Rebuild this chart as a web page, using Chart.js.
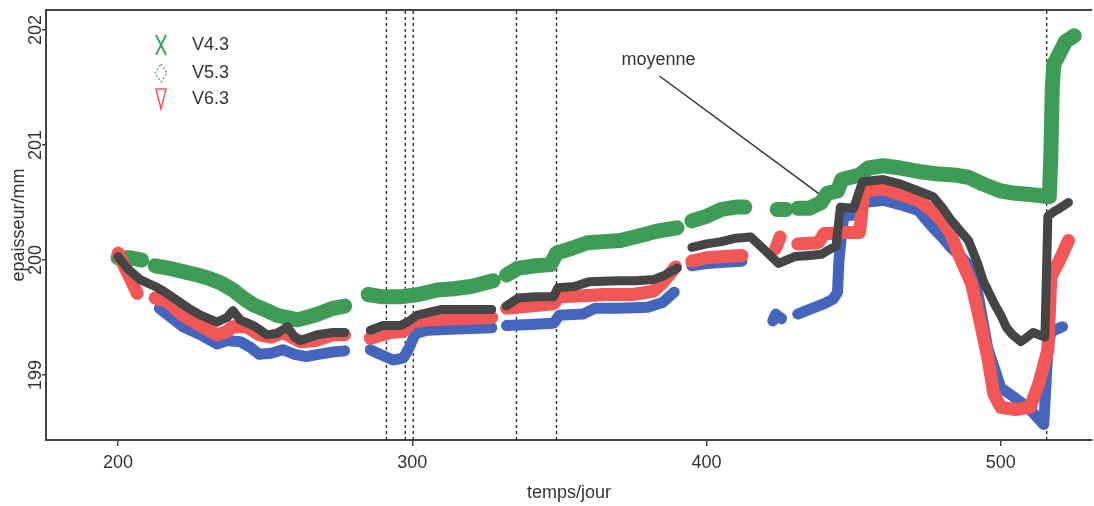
<!DOCTYPE html>
<html>
<head>
<meta charset="utf-8">
<script src="https://cdn.jsdelivr.net/npm/chart.js@4.4.0/dist/chart.umd.min.js"></script>
<style>
  html, body { margin: 0; padding: 0; background: #fff; }
</style>
</head>
<body>
<canvas id="chart" width="1094" height="506"></canvas>
<script>
// axis ranges and ticks
const xMin = 175.5, xMax = 531;
const yMin = 198.435, yMax = 202.174;
const xTicks = [200, 300, 400, 500];
const yTicks = [199, 200, 201, 202];

// V4.3 (green)
const v43Days = [200,204,208,210,212.6,217,222,227,231,235,239,243,246,250.6,254,257.5,261,264,268,273,277,281,285,290,296,302,308.5,314,320,327.5,330,332,336,342,347,349,354,359.5,365,370.7,378.6,383,387.8,390,392,395,400,405,410,413,418,424,427,429,431,435,439,441,444.5,446,452,455,460,466,472,478,484,489,494,500,505,510,516.5,517,517.5,518,520,522,525];
const v43Vals = [200.02,200.02,200.0,null,199.95,199.93,199.9,199.87,199.84,199.8,199.74,199.66,199.61,199.56,199.52,199.5,199.48,199.5,199.53,199.58,199.6,null,199.7,199.68,199.68,199.7,199.74,199.75,199.77,199.82,null,199.87,199.93,199.95,199.96,200.06,200.1,200.15,200.16,200.17,200.22,200.25,200.27,200.28,null,200.34,200.38,200.44,200.46,200.46,null,200.44,200.44,null,200.45,200.45,200.5,200.58,200.6,200.7,200.74,200.8,200.82,200.8,200.77,200.75,200.74,200.72,200.66,200.6,200.58,200.57,200.55,200.9,201.5,201.7,201.8,201.9,201.95];

// V5.3 (blue)
const v53Days = [200,203,206.5,209,214,218,222,228,233.6,237,241.5,245,248,252,256,260,264,268,273,277,281,285.7,289,293.5,297,299,301,305,315,327,330,332,340,348,350,358,362,370,380,385,389,392,395,400,406,412,418,422.5,423.5,425.5,428,431,435,440,443,444.5,445,446.6,452,453.5,460,466,472,477,480,483,486,489,492,495.6,500,504.4,508,511,514.6,516,517,519,521];
const v53Vals = [200.04,199.93,199.72,null,199.58,199.5,199.42,199.35,199.27,199.3,199.29,199.24,199.18,199.19,199.22,199.18,199.16,199.18,199.2,199.21,null,199.22,199.18,199.13,199.15,199.24,199.36,199.39,199.4,199.41,null,199.43,199.44,199.45,199.52,199.53,199.58,199.58,199.59,199.63,199.72,null,199.95,199.97,199.98,199.99,null,199.47,199.53,199.49,null,199.53,199.57,199.62,199.66,199.72,200.0,200.38,200.4,200.5,200.52,200.48,200.43,200.28,200.2,200.11,200.04,199.96,199.74,199.23,198.89,198.81,198.74,198.67,198.57,199.22,199.37,199.4,199.42];

// V6.3 (red)
const v63Days = [200,202,204,206.5,209,212.6,216.7,222,228,233.6,237,239,243.8,248,252,256,262,267,273,277,281,285.7,292.5,297,300,305,315,327,330,332,340,348,350,358,365,375,382,385,389.5,392,395,400,406,412,418,423.5,425,428,431,438,440,444,446.6,452,453.5,460,466,472,477,480,483,486,490,492,495.6,497.6,500,505,510,513,516,517,520,523];
const v63Vals = [200.06,199.95,199.85,199.71,null,199.67,199.64,199.52,199.43,199.35,199.38,199.42,199.42,199.35,199.33,199.37,199.29,199.3,199.35,199.35,null,199.32,199.37,199.38,199.46,199.48,199.49,199.5,null,199.58,199.6,199.62,199.68,199.69,199.7,199.7,199.73,199.8,199.94,null,199.99,200.02,200.03,200.04,null,200.1,200.2,null,200.14,200.15,200.23,200.23,200.24,200.24,200.6,200.62,200.57,200.52,200.42,200.34,200.23,200.03,199.8,199.58,199.15,198.84,198.72,198.7,198.72,198.93,199.22,199.85,200.0,200.17];

// moyenne (dark grey)
const meanDays = [200,203,207.5,212.6,216,220,224,228,233.6,237,239,241.5,246,250.6,254,257.5,260,262,267.7,273,277,281,285.7,290,296,299,301.7,310,320,327,330,332,336,342,348,349.5,355,360,370,376,382,386,390,392,395,400,405,410,415,420,424.5,430,435,439,441,444,445.5,450,453,460,466,472,477,480,483,486,489,492,494,497.6,500,502,504,506.8,509,511,515,516,518,520,523];
const meanVals = [200.03,199.93,199.83,199.77,199.72,199.65,199.58,199.52,199.46,199.5,199.56,199.48,199.43,199.35,199.36,199.42,199.33,199.3,199.35,199.37,199.37,null,199.39,199.43,199.43,199.47,199.52,199.57,199.57,199.57,null,199.6,199.67,199.68,199.68,199.76,199.77,199.81,199.82,199.82,199.83,199.87,199.93,null,200.11,200.14,200.16,200.19,200.2,200.08,199.97,200.03,200.04,200.05,200.08,200.12,200.46,200.45,200.68,200.7,200.66,200.6,200.55,200.46,200.35,200.26,200.17,199.98,199.82,199.63,199.52,199.41,199.35,199.29,199.33,199.37,199.33,200.38,200.42,200.45,200.5];

// vertical dashed markers (days)
const markerDays = [291.2, 297.6, 300.3, 335.4, 349, 515.6];

// "moyenne" note: pointer line and label
const noteText = 'moyenne';
const noteLineDays = [384, 438.5];
const noteLineVals = [201.6, 200.57];
const noteLabelAt = [383.7, 201.74];

const seriesNames = ['V4.3', 'V5.3', 'V6.3'];

const GREEN = '#3f9c57', BLUE = '#4565bd', RED = '#f25757', GREY = '#454545';
const FONT = '"Liberation Sans", Arial, Helvetica, sans-serif';

function pts(days, vals) {
    return days.map((d, i) => ({ x: d, y: vals[i] }));
}

function band(label, days, vals, color, width, order) {
    return {
        label: label,
        data: pts(days, vals),
        borderColor: color,
        backgroundColor: color,
        borderWidth: width,
        borderJoinStyle: 'round',
        borderCapStyle: 'round',
        pointRadius: 0,
        tension: 0,
        spanGaps: false,
        fill: false,
        order: order
    };
}

// lower order is drawn on top
const datasets = [
    band('moyenne', meanDays, meanVals, GREY, 9, 1),
    band(seriesNames[2], v63Days, v63Vals, RED, 13, 2),
    band(seriesNames[1], v53Days, v53Vals, BLUE, 11, 3),
    band(seriesNames[0], v43Days, v43Vals, GREEN, 15, 4),
    {
        label: 'note',
        data: pts(noteLineDays, noteLineVals),
        borderColor: '#333',
        borderWidth: 1.5,
        pointRadius: 0,
        order: 5
    }
];

markerDays.forEach(d => {
    datasets.push({
        label: 'marker',
        data: [{ x: d, y: yMin }, { x: d, y: yMax }],
        borderColor: '#222',
        borderWidth: 1.3,
        borderDash: [3, 3],
        pointRadius: 0,
        order: 6
    });
});

const overlay = {
    id: 'overlay',
    afterDraw(chart) {
        const { ctx, chartArea: a, scales: { x, y } } = chart;
        ctx.save();

        // top frame line
        ctx.strokeStyle = '#444';
        ctx.lineWidth = 2;
        ctx.beginPath();
        ctx.moveTo(a.left, a.top);
        ctx.lineTo(a.right, a.top);
        ctx.stroke();

        // moyenne label
        ctx.font = '18px ' + FONT;
        ctx.fillStyle = '#333';
        ctx.textAlign = 'center';
        ctx.textBaseline = 'middle';
        ctx.fillText(noteText, x.getPixelForValue(noteLabelAt[0]), y.getPixelForValue(noteLabelAt[1]));

        // legend
        const mx = a.left + 115, tx = a.left + 146;
        const rows = [a.top + 35, a.top + 63, a.top + 89];
        ctx.textAlign = 'left';
        ctx.lineWidth = 1.8;

        // X
        ctx.strokeStyle = GREEN;
        ctx.beginPath();
        ctx.moveTo(mx - 5, rows[0] - 10); ctx.lineTo(mx + 5, rows[0] + 10);
        ctx.moveTo(mx + 5, rows[0] - 10); ctx.lineTo(mx - 5, rows[0] + 10);
        ctx.stroke();

        // diamond
        ctx.strokeStyle = '#4f8f96';
        ctx.lineWidth = 1.2;
        ctx.setLineDash([2, 2]);
        ctx.beginPath();
        ctx.moveTo(mx, rows[1] - 9); ctx.lineTo(mx + 6, rows[1]);
        ctx.lineTo(mx, rows[1] + 9); ctx.lineTo(mx - 6, rows[1]);
        ctx.closePath();
        ctx.stroke();
        ctx.setLineDash([]);

        // inverted triangle
        ctx.strokeStyle = RED;
        ctx.lineWidth = 1.5;
        ctx.beginPath();
        ctx.moveTo(mx - 5, rows[2] - 10); ctx.lineTo(mx + 5, rows[2] - 10);
        ctx.lineTo(mx, rows[2] + 10);
        ctx.closePath();
        ctx.stroke();

        ctx.fillStyle = '#333';
        seriesNames.forEach((n, i) => ctx.fillText(n, tx, rows[i]));

        ctx.restore();
    }
};

new Chart(document.getElementById('chart'), {
    type: 'line',
    data: { datasets: datasets },
    options: {
        responsive: false,
        animation: false,
        layout: { padding: { top: 10, right: 2, left: 0, bottom: 0 } },
        plugins: {
            legend: { display: false },
            tooltip: { enabled: false }
        },
        scales: {
            x: {
                type: 'linear',
                min: xMin,
                max: xMax,
                afterBuildTicks: s => { s.ticks = xTicks.map(v => ({ value: v })); },
                afterFit: s => { s.height = 66; },
                grid: { drawOnChartArea: false, drawTicks: true, tickLength: 6, color: '#444', lineWidth: 1.5 },
                border: { display: true, color: '#444', width: 2 },
                ticks: { padding: 6, maxRotation: 0, color: '#333', font: { family: FONT, size: 18 } },
                title: { display: true, text: 'temps/jour', color: '#333', font: { family: FONT, size: 18 }, padding: { top: 0, bottom: 2 } }
            },
            y: {
                type: 'linear',
                min: yMin,
                max: yMax,
                afterBuildTicks: s => { s.ticks = yTicks.map(v => ({ value: v })); },
                afterFit: s => { s.width = 46; },
                grid: { drawOnChartArea: false, drawTicks: true, tickLength: 4, color: '#444', lineWidth: 1.5 },
                border: { display: true, color: '#444', width: 2 },
                ticks: { minRotation: 90, maxRotation: 90, crossAlign: 'center', padding: -9, color: '#333', font: { family: FONT, size: 18 } },
                title: { display: true, text: 'epaisseur/mm', color: '#333', font: { family: FONT, size: 18 }, padding: { top: 8, bottom: 0 } }
            }
        }
    },
    plugins: [overlay]
});
</script>
</body>
</html>
